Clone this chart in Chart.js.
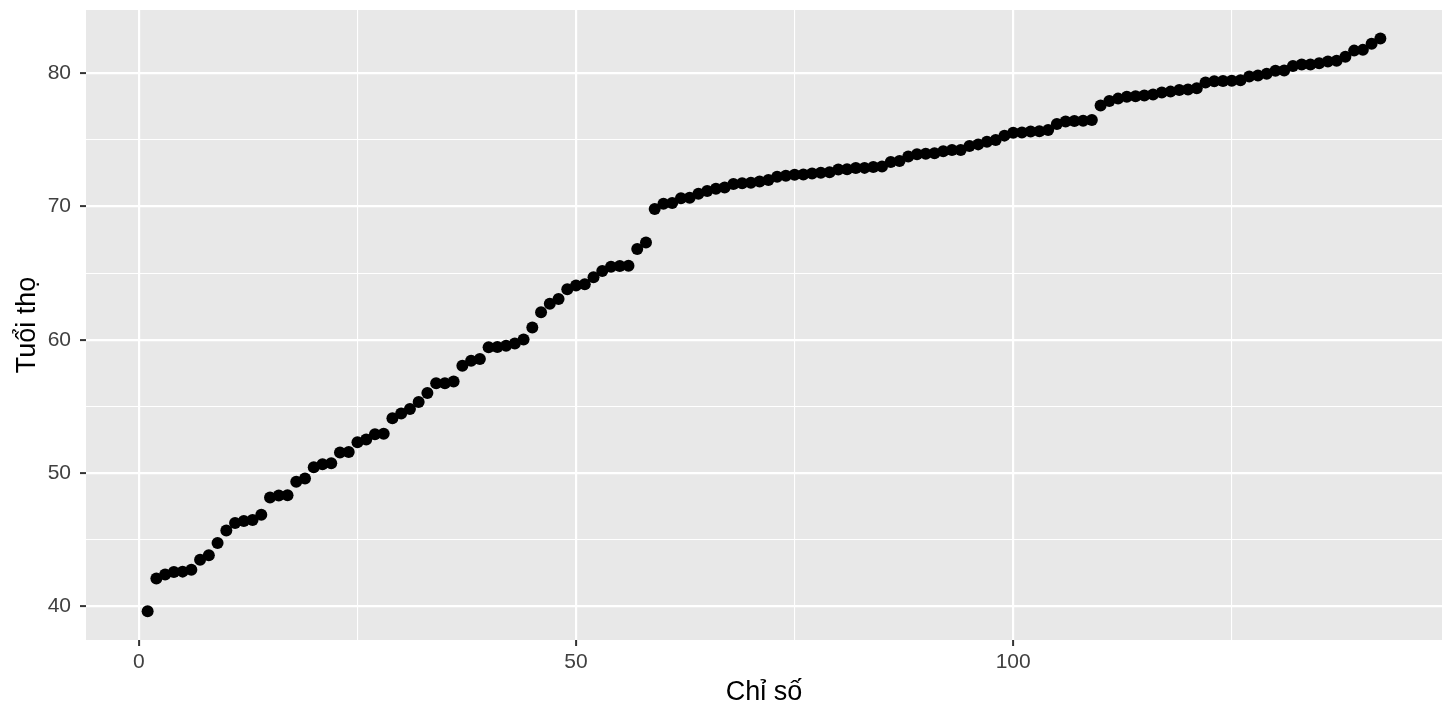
<!DOCTYPE html>
<html>
<head>
<meta charset="utf-8">
<script src="https://cdn.jsdelivr.net/npm/chart.js@4"></script>
<style>
  html, body { margin: 0; padding: 0; background: #ffffff; }
  #wrap { width: 1456px; height: 720px; }
</style>
</head>
<body>
<div id="wrap"><canvas id="chart"></canvas></div>
<script>
// life expectancy, sorted ascending
const lifeExp = [
  39.613, 42.082, 42.384, 42.568, 42.592, 42.731, 43.487, 43.828, 44.741, 45.678,
  46.242, 46.388, 46.462, 46.859, 48.159, 48.303, 48.328, 49.339, 49.580, 50.430,
  50.651, 50.728, 51.542, 51.579, 52.295, 52.517, 52.906, 52.947, 54.110, 54.467,
  54.791, 55.322, 56.007, 56.728, 56.735, 56.867, 58.040, 58.420, 58.556, 59.443,
  59.448, 59.545, 59.723, 60.022, 60.916, 62.069, 62.698, 63.062, 63.785, 64.062,
  64.164, 64.698, 65.152, 65.483, 65.528, 65.554, 66.803, 67.297, 69.819, 70.198,
  70.259, 70.616, 70.650, 70.964, 71.164, 71.338, 71.421, 71.688, 71.752, 71.777,
  71.878, 71.993, 72.235, 72.301, 72.390, 72.396, 72.476, 72.535, 72.567, 72.777,
  72.801, 72.889, 72.899, 72.961, 73.005, 73.338, 73.422, 73.747, 73.923, 73.952,
  74.002, 74.143, 74.241, 74.249, 74.543, 74.663, 74.852, 74.994, 75.320, 75.537,
  75.563, 75.635, 75.640, 75.748, 76.195, 76.384, 76.423, 76.442, 76.486, 77.588,
  77.926, 78.098, 78.242, 78.273, 78.332, 78.400, 78.553, 78.623, 78.746, 78.782,
  78.885, 79.313, 79.406, 79.425, 79.441, 79.483, 79.762, 79.829, 79.972, 80.196,
  80.204, 80.546, 80.653, 80.657, 80.745, 80.884, 80.941, 81.235, 81.701, 81.757,
  82.208, 82.603
];
const index = lifeExp.map((_, i) => i + 1);

const xTicks = [0, 25, 50, 75, 100, 125];
const yTicks = [40, 45, 50, 55, 60, 65, 70, 75, 80];

const font = "'Liberation Sans', Arial, Helvetica, sans-serif";

const panelBg = {
  id: 'panelBg',
  beforeDraw(chart) {
    const { ctx, chartArea: a } = chart;
    ctx.save();
    ctx.fillStyle = '#e8e8e8';
    ctx.fillRect(a.left, a.top, a.right - a.left, a.bottom - a.top);
    ctx.restore();
  }
};

const isMajor = (v, step) => Math.abs(v % step) < 1e-9;

new Chart(document.getElementById('chart'), {
  type: 'scatter',
  data: {
    datasets: [{
      data: index.map((x, i) => ({ x: x, y: lifeExp[i] })),
      backgroundColor: '#000000',
      borderWidth: 0,
      pointRadius: 6,
      pointHoverRadius: 6
    }]
  },
  options: {
    responsive: true,
    maintainAspectRatio: false,
    animation: false,
    layout: { padding: { top: 10, right: 14, left: 0, bottom: 0 } },
    plugins: { legend: { display: false }, tooltip: { enabled: false } },
    scales: {
      x: {
        type: 'linear',
        min: -6.05,
        max: 149.05,
        afterBuildTicks: s => { s.ticks = xTicks.map(v => ({ value: v })); },
        afterFit: s => { s.height = 80; s.paddingLeft = 0; s.paddingRight = 0; },
        border: { display: false },
        grid: {
          color: '#ffffff',
          lineWidth: c => isMajor(c.tick.value, 50) ? 2.2 : 1.1,
          tickColor: c => isMajor(c.tick.value, 50) ? '#333333' : 'rgba(0,0,0,0)',
          tickLength: 6,
          tickWidth: 2
        },
        ticks: {
          autoSkip: false,
          maxRotation: 0,
          padding: 4,
          color: '#404040',
          font: { family: font, size: 21 },
          callback: v => isMajor(v, 50) ? String(v) : ''
        },
        title: {
          display: true,
          text: 'Chỉ số',
          color: '#000000',
          font: { family: font, size: 27 },
          padding: { top: 0, bottom: 11 }
        }
      },
      y: {
        type: 'linear',
        min: 37.46,
        max: 84.75,
        afterBuildTicks: s => { s.ticks = yTicks.map(v => ({ value: v })); },
        afterFit: s => { s.width = 86; s.paddingTop = 0; s.paddingBottom = 0; },
        border: { display: false },
        grid: {
          color: '#ffffff',
          lineWidth: c => isMajor(c.tick.value, 10) ? 2.2 : 1.1,
          tickColor: c => isMajor(c.tick.value, 10) ? '#333333' : 'rgba(0,0,0,0)',
          tickLength: 6,
          tickWidth: 2
        },
        ticks: {
          autoSkip: false,
          padding: 9,
          color: '#404040',
          font: { family: font, size: 21 },
          callback: v => isMajor(v, 10) ? String(v) : ''
        },
        title: {
          display: true,
          text: 'Tuổi thọ',
          color: '#000000',
          font: { family: font, size: 27 },
          padding: { top: 11, bottom: 0 }
        }
      }
    }
  },
  plugins: [panelBg]
});
</script>
</body>
</html>
